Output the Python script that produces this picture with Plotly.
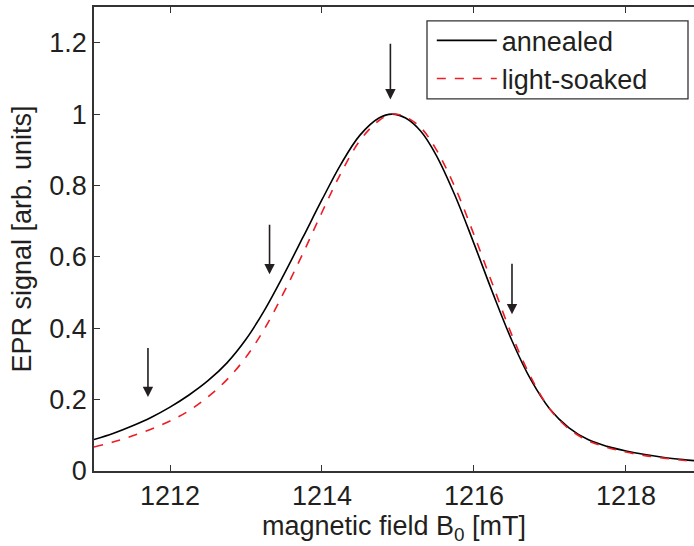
import plotly.graph_objects as go

# magnetic field [mT]
field = [1211.0, 1211.25, 1211.5, 1211.75, 1212.0, 1212.25, 1212.5, 1212.75,
         1213.0, 1213.25, 1213.5, 1213.75, 1214.0, 1214.25, 1214.5, 1214.75,
         1214.92, 1215.1, 1215.3, 1215.5, 1215.75, 1216.0, 1216.25, 1216.5,
         1216.75, 1217.0, 1217.25, 1217.5, 1217.75, 1218.0, 1218.25, 1218.5,
         1218.75, 1219.0]

annealed = [0.088, 0.105, 0.126, 0.150, 0.179, 0.213, 0.253, 0.303,
            0.369, 0.453, 0.551, 0.655, 0.760, 0.860, 0.941, 0.989,
            1.000, 0.989, 0.952, 0.886, 0.772, 0.637, 0.497, 0.365,
            0.255, 0.173, 0.121, 0.088, 0.069, 0.056, 0.046, 0.038,
            0.032, 0.027]

light_soaked = [0.067, 0.081, 0.098, 0.117, 0.140, 0.169, 0.208, 0.256,
                0.319, 0.401, 0.501, 0.610, 0.725, 0.835, 0.926, 0.982,
                1.000, 0.992, 0.962, 0.902, 0.795, 0.662, 0.520, 0.380,
                0.262, 0.173, 0.118, 0.085, 0.066, 0.053, 0.043, 0.036,
                0.030, 0.026]

# arrows: x position, tail y, tip y
arrow_x = [1211.71, 1213.31, 1214.90, 1216.50]
arrow_tail = [0.349, 0.694, 1.201, 0.585]
arrow_tip = [0.207, 0.551, 1.041, 0.439]

x_ticks = [1212, 1214, 1216, 1218]
y_ticks = [0, 0.2, 0.4, 0.6, 0.8, 1.0, 1.2]
y_ticktext = ["0", "0.2", "0.4", "0.6", "0.8", "1", "1.2"]

txt = "#231f20"
font = "Liberation Sans, Arial, sans-serif"

fig = go.Figure()
fig.add_trace(go.Scatter(x=field, y=annealed, mode="lines", name="annealed",
                         line=dict(color="black", width=1.6, shape="spline", smoothing=1.0)))
fig.add_trace(go.Scatter(x=field, y=light_soaked, mode="lines", name="light-soaked",
                         line=dict(color="#ee1c25", width=1.6, dash="dash", shape="spline", smoothing=1.0)))

for ax_, t0, t1 in zip(arrow_x, arrow_tail, arrow_tip):
    fig.add_annotation(x=ax_, y=t1, ax=ax_, ay=t0, xref="x", yref="y", axref="x", ayref="y",
                       text="", showarrow=True, arrowhead=2, arrowsize=1.3, arrowwidth=1.6,
                       arrowcolor="#231f20")

# legend frame
fig.add_shape(type="rect", xref="paper", yref="paper", x0=0.555, x1=0.99, y0=0.802, y1=0.970,
              line=dict(color="#333333", width=1.3), fillcolor="rgba(255,255,255,1)", layer="below")

fig.update_layout(
    width=694, height=546,
    margin=dict(l=94, r=0, t=7, b=75),
    paper_bgcolor="white", plot_bgcolor="white",
    font=dict(family=font, color=txt, size=27),
    showlegend=True,
    legend=dict(x=0.563, y=0.980, xanchor="left", yanchor="top",
                borderwidth=0, bgcolor="rgba(0,0,0,0)",
                font=dict(size=27, family=font, color=txt),
                tracegroupgap=0, itemwidth=60),
    xaxis=dict(range=[1211, 1218.895], tickvals=x_ticks, ticks="inside", ticklen=6,
               tickcolor="#333333", showline=True, linecolor="#333333", linewidth=1.5,
               mirror="ticks", showgrid=False, zeroline=False,
               tickfont=dict(size=27, family=font, color=txt),
               title=dict(text="magnetic field B<sub>0</sub> [mT]", standoff=1,
                          font=dict(size=27, family=font, color=txt))),
    yaxis=dict(range=[0, 1.3], tickvals=y_ticks, ticktext=y_ticktext, ticks="inside",
               ticklen=6, tickcolor="#333333", showline=True, linecolor="#333333",
               linewidth=1.5, mirror=False, showgrid=False, zeroline=False,
               tickfont=dict(size=27, family=font, color=txt),
               title=dict(text="EPR signal [arb. units]", standoff=10,
                          font=dict(size=27, family=font, color=txt))),
)

fig.write_html("out.html")
